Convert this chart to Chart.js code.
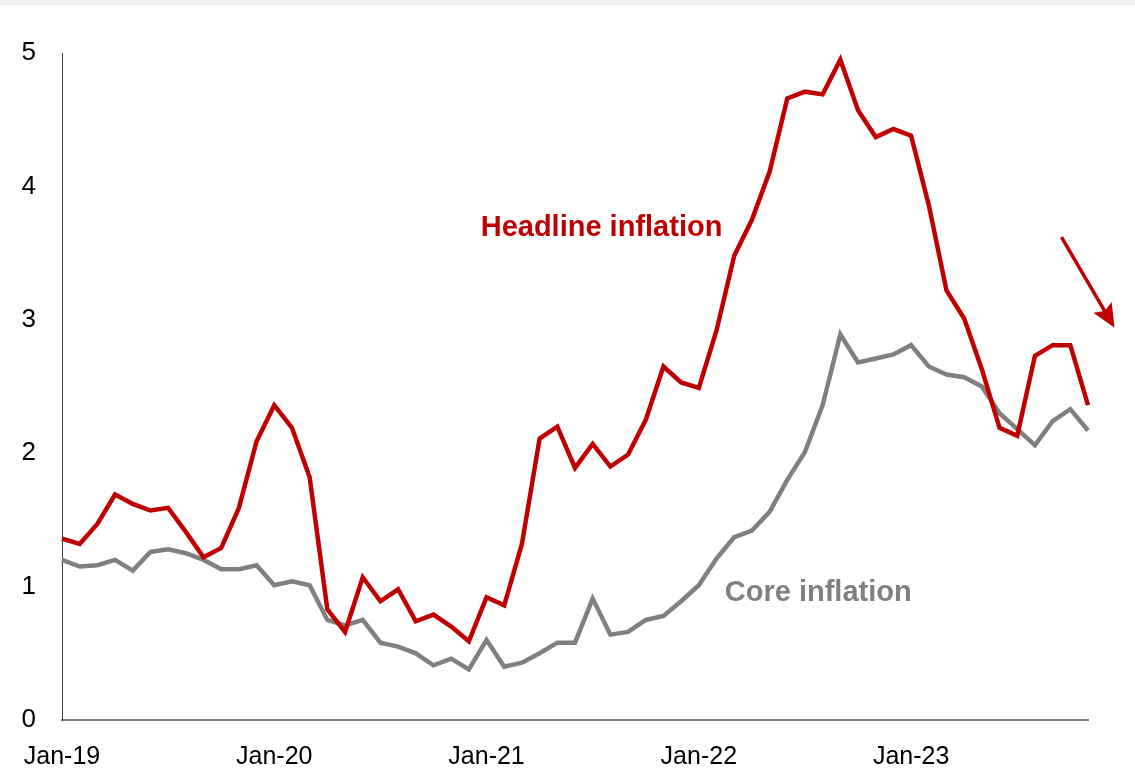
<!DOCTYPE html>
<html>
<head>
<meta charset="utf-8">
<title>Headline and core inflation</title>
<script src="https://cdn.jsdelivr.net/npm/chart.js@4/dist/chart.umd.min.js"></script>
<style>
  html, body { margin: 0; padding: 0; background: #fff; }
  #wrap { width: 1135px; height: 769px; position: relative; }
</style>
</head>
<body>
<div id="wrap"><canvas id="inflChart"></canvas></div>
<script>
// monthly categories Jan-19 .. Nov-23
var monthNames = ['Jan','Feb','Mar','Apr','May','Jun','Jul','Aug','Sep','Oct','Nov','Dec'];
var years = ['19','20','21','22','23'];
var months = [];
for (var y of years) {
  for (var m of monthNames) {
    months.push(m + '-' + y);
  }
}
months = months.slice(0, 59);

var yTicks = [0, 1, 2, 3, 4, 5];

var headline = [
  1.36, 1.32, 1.47, 1.69, 1.62, 1.57, 1.59, 1.41, 1.22, 1.29, 1.59, 2.09,
  2.36, 2.19, 1.82, 0.83, 0.66, 1.07, 0.89, 0.98, 0.74, 0.79, 0.70, 0.59,
  0.92, 0.86, 1.32, 2.11, 2.20, 1.89, 2.07, 1.90, 1.99, 2.25, 2.65, 2.53,
  2.49, 2.92, 3.48, 3.75, 4.11, 4.66, 4.71, 4.69, 4.95, 4.57, 4.37, 4.43,
  4.38, 3.86, 3.22, 3.01, 2.63, 2.19, 2.13, 2.73, 2.81, 2.81, 2.36
];

var core = [
  1.20, 1.15, 1.16, 1.20, 1.12, 1.26, 1.28, 1.25, 1.20, 1.13, 1.13, 1.16,
  1.01, 1.04, 1.01, 0.75, 0.71, 0.75, 0.58, 0.55, 0.50, 0.41, 0.46, 0.38,
  0.60, 0.40, 0.43, 0.50, 0.58, 0.58, 0.91, 0.64, 0.66, 0.75, 0.78, 0.89,
  1.01, 1.21, 1.37, 1.42, 1.56, 1.80, 2.01, 2.36, 2.89, 2.68, 2.71, 2.74,
  2.81, 2.65, 2.59, 2.57, 2.50, 2.30, 2.18, 2.06, 2.24, 2.33, 2.17
];

var RED = '#c00000';
var GREY = '#808080';

// series labels and the downward arrow, placed in data coordinates
var annotations = {
  id: 'annotations',
  beforeDraw: function(chart) {
    var c = chart.ctx;
    c.save();
    c.fillStyle = '#f0f0f0';
    c.fillRect(0, 0, chart.width, 5);
    c.restore();
  },
  afterDatasetsDraw: function(chart) {
    var c = chart.ctx;
    var xs = chart.scales.x, ys = chart.scales.y;
    c.save();
    c.font = 'bold 29px "Liberation Sans", Arial, sans-serif';
    c.textAlign = 'center';
    c.textBaseline = 'middle';
    c.fillStyle = RED;
    c.fillText('Headline inflation', xs.getPixelForValue(30.5), ys.getPixelForValue(3.69));
    c.fillStyle = GREY;
    c.fillText('Core inflation', xs.getPixelForValue(42.75), ys.getPixelForValue(0.95));

    // arrow
    var x1 = xs.getPixelForValue(56.5), y1 = ys.getPixelForValue(3.62);
    var x2 = xs.getPixelForValue(59.5), y2 = ys.getPixelForValue(2.94);
    var ang = Math.atan2(y2 - y1, x2 - x1);
    var head = 26;
    c.strokeStyle = RED;
    c.lineWidth = 3.5;
    c.beginPath();
    c.moveTo(x1, y1);
    c.lineTo(x2 - Math.cos(ang) * head * 0.6, y2 - Math.sin(ang) * head * 0.6);
    c.stroke();
    c.fillStyle = RED;
    c.beginPath();
    c.moveTo(x2, y2);
    c.lineTo(x2 - head * Math.cos(ang - 0.42), y2 - head * Math.sin(ang - 0.42));
    c.lineTo(x2 - head * 0.75 * Math.cos(ang), y2 - head * 0.75 * Math.sin(ang));
    c.lineTo(x2 - head * Math.cos(ang + 0.42), y2 - head * Math.sin(ang + 0.42));
    c.closePath();
    c.fill();
    c.restore();
  }
};

var ctx = document.getElementById('inflChart').getContext('2d');
var inflChart = new Chart(ctx, {
  type: 'line',
  data: {
    labels: months,
    datasets: [{
      label: 'Headline inflation',
      data: headline,
      borderColor: RED,
      borderWidth: 4.5,
      pointRadius: 0,
      tension: 0,
      borderJoinStyle: 'miter'
    }, {
      label: 'Core inflation',
      data: core,
      borderColor: GREY,
      borderWidth: 4.5,
      pointRadius: 0,
      tension: 0,
      borderJoinStyle: 'miter'
    }]
  },
  options: {
    responsive: true,
    maintainAspectRatio: false,
    animation: false,
    layout: { padding: { top: 53, right: 47, left: 0, bottom: 0 } },
    plugins: {
      legend: { display: false },
      tooltip: { enabled: false }
    },
    scales: {
      x: {
        offset: false,
        grid: { display: false, drawTicks: false },
        border: { display: true, color: '#7f7f7f', width: 2 },
        ticks: {
          autoSkip: false,
          maxRotation: 0,
          padding: 22,
          color: '#000',
          font: { family: '"Liberation Sans", Arial, sans-serif', size: 25 },
          callback: function(val, i) {
            return i % 12 === 0 ? months[i] : '';
          }
        },
        afterFit: function(s) { s.height = 49; }
      },
      y: {
        min: 0,
        max: 5,
        grid: { display: false, drawTicks: false },
        border: { display: true, color: '#404040', width: 1 },
        afterBuildTicks: function(s) {
          s.ticks = yTicks.map(function(v) { return { value: v }; });
        },
        ticks: {
          padding: 26,
          color: '#000',
          font: { family: '"Liberation Sans", Arial, sans-serif', size: 26 }
        },
        afterFit: function(s) { s.width = 62; }
      }
    }
  },
  plugins: [annotations]
});
</script>
</body>
</html>
